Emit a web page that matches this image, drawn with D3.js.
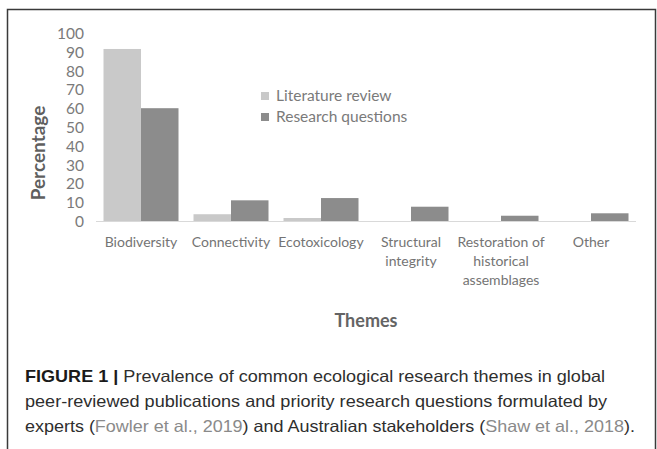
<!DOCTYPE html>
<html>
<head>
<meta charset="utf-8">
<script src="https://cdn.jsdelivr.net/npm/d3@7"></script>
<style>
  html, body { margin: 0; padding: 0; background: #fff; }
  svg { display: block; }
</style>
</head>
<body>
<svg id="chart" width="657" height="449"></svg>
<script>
// ---- data ----
const categories = ["Biodiversity", "Connectivity", "Ecotoxicology", "Structural integrity", "Restoration of historical assemblages", "Other"];
const categoryLines = [["Biodiversity"], ["Connectivity"], ["Ecotoxicology"], ["Structural", "integrity"], ["Restoration of", "historical", "assemblages"], ["Other"]];
const seriesNames = ["Literature review", "Research questions"];
const literatureReview = [91.5, 3.6, 1.6, 0, 0, 0];
const researchQuestions = [60, 11, 12.2, 7.6, 2.8, 4.1];
const yTicks = [0, 10, 20, 30, 40, 50, 60, 70, 80, 90, 100];
const yLabel = "Percentage";
const xLabel = "Themes";
const captionLines = [
  [{t: "FIGURE 1 | ", b: true}, {t: "Prevalence of common ecological research themes in global"}],
  [{t: "peer-reviewed publications and priority research questions formulated by"}],
  [{t: "experts ("}, {t: "Fowler et al., 2019", c: true}, {t: ") and Australian stakeholders ("}, {t: "Shaw et al., 2018", c: true}, {t: ")."}]
];

const colors = ["#c9c9c9", "#8c8c8c"];
const font = "Lato, 'Open Sans', sans-serif";

const svg = d3.select("#chart");

// frame
svg.append("path")
  .attr("d", "M7.5,449 V9.5 H655.5 V449")
  .attr("fill", "none").attr("stroke", "#3a3a3a").attr("stroke-width", 1.5);

const x0 = d3.scaleBand().domain(categories).range([96, 636]).paddingInner(1/6).paddingOuter(1/12);
const x1 = d3.scaleBand().domain(seriesNames).range([0, x0.bandwidth()]);
const y = d3.scaleLinear().domain([0, 100]).range([221, 33]);

const rows = categories.map((c, i) => ({cat: c, vals: [literatureReview[i], researchQuestions[i]]}));

// bars
const g = svg.append("g");
rows.forEach(r => {
  r.vals.forEach((v, j) => {
    if (v <= 0) return;
    g.append("rect")
      .attr("x", x0(r.cat) + x1(seriesNames[j]))
      .attr("y", y(v))
      .attr("width", x1.bandwidth())
      .attr("height", y(0) - y(v))
      .attr("fill", colors[j]);
  });
});

// baseline
svg.append("line")
  .attr("x1", 96).attr("x2", 636)
  .attr("y1", y(0) + 0.5).attr("y2", y(0) + 0.5)
  .attr("stroke", "#d9d9d9").attr("stroke-width", 1.2);

// y axis
const yAxis = svg.append("g")
  .attr("transform", "translate(84,0)")
  .call(d3.axisLeft(y).tickValues(yTicks).tickSize(0).tickPadding(0));
yAxis.select(".domain").remove();
yAxis.selectAll("text")
  .attr("font-family", font).attr("font-size", 15.5).attr("fill", "#7a7a7a").attr("dy", "0.36em");

// y label
svg.append("text")
  .attr("transform", `translate(45,153) rotate(-90)`)
  .attr("text-anchor", "middle")
  .attr("font-family", font).attr("font-weight", "bold").attr("font-size", 19)
  .attr("fill", "#5f5f5f")
  .text(yLabel);

// x category labels
categories.forEach((c, i) => {
  const cx = x0(c) + x0.bandwidth() / 2;
  const t = svg.append("text")
    .attr("text-anchor", "middle")
    .attr("font-family", font).attr("font-size", 14).attr("fill", "#747474");
  categoryLines[i].forEach((line, k) => {
    t.append("tspan").attr("x", cx).attr("y", 247 + k * 19).text(line);
  });
});

// x label
svg.append("text")
  .attr("x", x0.range()[0] + (x0.range()[1] - x0.range()[0]) / 2 - 0)
  .attr("y", 327)
  .attr("text-anchor", "middle")
  .attr("font-family", font).attr("font-weight", "bold").attr("font-size", 18)
  .attr("fill", "#646464")
  .text(xLabel);

// legend
const leg = svg.append("g");
seriesNames.forEach((s, j) => {
  const cy = 96 + j * 21;
  leg.append("rect").attr("x", 261).attr("y", cy - 4).attr("width", 8).attr("height", 8).attr("fill", colors[j]);
  leg.append("text").attr("x", 276).attr("y", cy).attr("dy", "0.35em")
    .attr("font-family", font).attr("font-size", 15.5).attr("fill", "#7a7a7a").text(s);
});

// caption
const capWidths = [580, 582, 610];
captionLines.forEach((parts, i) => {
  const t = svg.append("text")
    .attr("x", 25).attr("y", 382 + i * 25)
    .attr("font-family", "'Liberation Sans', Arial, sans-serif")
    .attr("font-size", 16.5)
    .attr("textLength", capWidths[i]).attr("lengthAdjust", "spacingAndGlyphs");
  parts.forEach(p => {
    t.append("tspan").text(p.t)
      .attr("font-weight", p.b ? "bold" : "normal")
      .attr("fill", p.b ? "#1a1a1a" : (p.c ? "#8a8a8a" : "#2e2e2e"));
  });
});
</script>
</body>
</html>
